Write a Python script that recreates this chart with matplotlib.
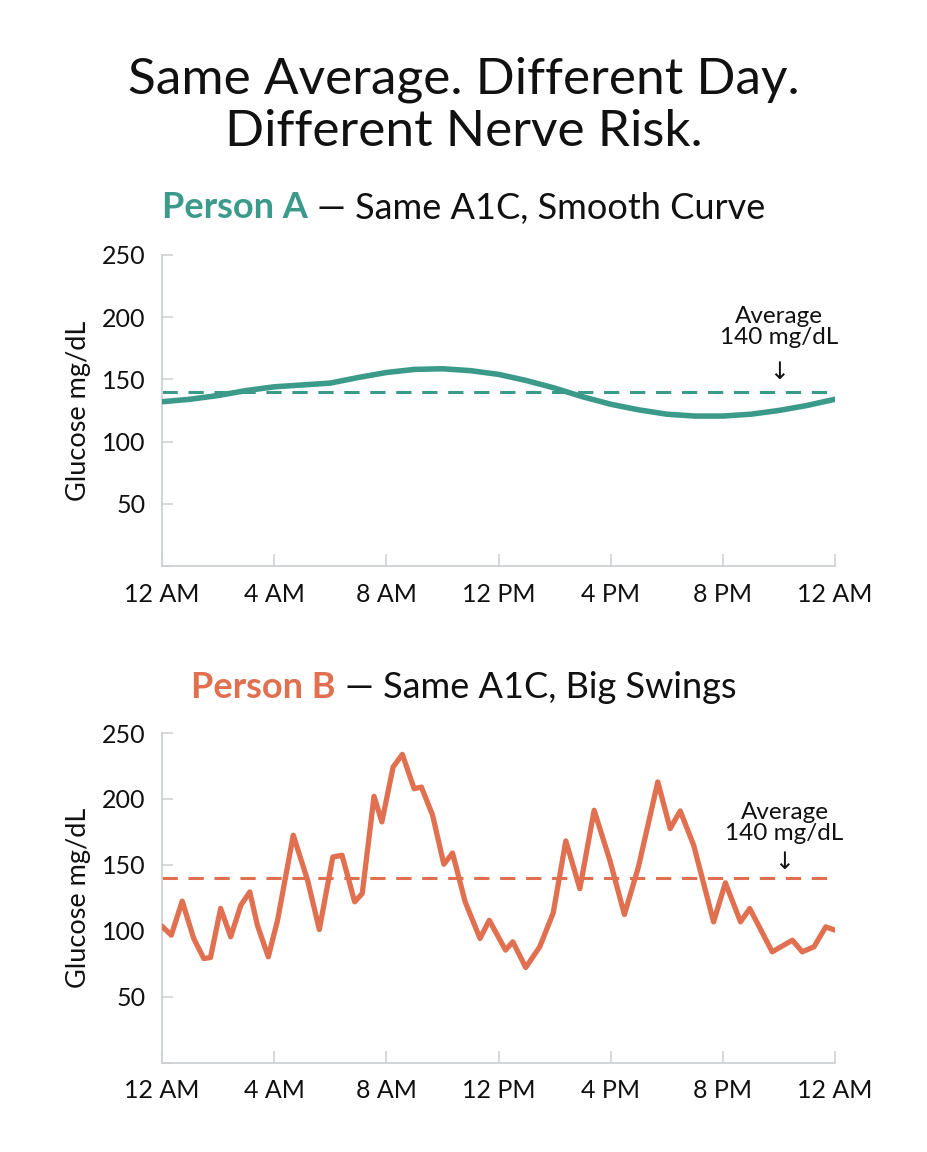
import matplotlib

matplotlib.use("Agg", force=True)
import matplotlib.pyplot as plt

plt.rcParams["font.family"] = ["Lato", "DejaVu Sans"]

# Person A: smooth curve, read hourly
hours_a = list(range(25))
glucose_a = [132, 134, 137, 141, 144, 145.5, 147, 151.5, 155.5, 158, 158.5, 157, 154,
             149, 143, 136, 130, 125.5, 122, 120.5, 120.5, 122, 125, 129, 134]

# Person B: jagged trace, vertices
hours_b = [0.0, 0.33, 0.72, 1.13, 1.49, 1.73, 2.09, 2.45, 2.81, 3.13, 3.4, 3.79, 4.12,
           4.68, 5.19, 5.61, 6.09, 6.42, 6.87, 7.14, 7.56, 7.84, 8.24, 8.57, 8.99,
           9.25, 9.65, 10.05, 10.36, 10.81, 11.34, 11.67, 12.25, 12.51, 12.97, 13.47,
           13.95, 14.4, 14.9, 15.41, 15.97, 16.49, 16.99, 17.68, 18.12, 18.48, 18.96,
           19.67, 20.09, 20.63, 20.96, 21.76, 22.48, 22.83, 23.25, 23.67, 24.0]
glucose_b = [103.5, 96.7, 122.5, 94.2, 79, 79.8, 117, 95.5, 119.4, 129.5, 104.3, 80.3, 108,
             172.5, 138.4, 101, 156, 157.3, 122, 128.3, 202, 182.6, 224.2, 233.8, 207.8,
             209, 187.6, 150.5, 159, 122, 94.2, 108, 85.4, 91.7, 72.2, 87.9,
             113.6, 168.2, 132, 191.4, 153.5, 112.4, 148.5, 212.9, 177.5, 190.9, 164.9,
             106.8, 136.4, 106.8, 116.9, 84.1, 92.9, 84.1, 87.9, 103, 100.5]

average = 140
tick_hours = [0, 4, 8, 12, 16, 20, 24]
tick_labels = ["12 AM", "4 AM", "8 AM", "12 PM", "4 PM", "8 PM", "12 AM"]
y_ticks = [0, 50, 100, 150, 200, 250]
y_labels = ["", "50", "100", "150", "200", "250"]

TEAL = "#3c9a8b"
ORANGE = "#e0704f"
GRID = "#cfd2d4"
INK = "#111111"

fig = plt.figure(figsize=(9.28, 11.52), dpi=100)
fig.patch.set_facecolor("white")

ax_a = fig.add_axes([0.1746, 0.5087, 0.7252, 0.270])
ax_b = fig.add_axes([0.1746, 0.0775, 0.7252, 0.2862])


def style_axis(ax, color):
    ax.set_xlim(0, 24)
    ax.set_ylim(0, 250)
    ax.set_xticks(tick_hours)
    ax.set_xticklabels(tick_labels)
    ax.set_yticks(y_ticks)
    ax.set_yticklabels(y_labels)
    for side in ["top", "right"]:
        ax.spines[side].set_visible(False)
    for side in ["left", "bottom"]:
        ax.spines[side].set_color(GRID)
        ax.spines[side].set_linewidth(1.3)
    ax.tick_params(axis="both", direction="in", color=GRID, width=1.2, labelsize=18,
                   labelcolor=INK)
    ax.tick_params(axis="x", length=9, pad=12)
    ax.tick_params(axis="y", length=8, pad=12)
    ax.set_ylabel("Glucose mg/dL", fontsize=19.5, color=INK, labelpad=8)
    ax.axhline(average, color=color, lw=2.2, ls=(0, (5, 3.5)), zorder=2)


style_axis(ax_a, TEAL)
ax_a.plot(hours_a, glucose_a, color=TEAL, lw=4, solid_capstyle="round",
          solid_joinstyle="round", zorder=3)

style_axis(ax_b, ORANGE)
ax_b.plot(hours_b, glucose_b, color=ORANGE, lw=3.8, solid_capstyle="round",
          solid_joinstyle="round", zorder=3)

for ax, x, ytxt, yarr in [(ax_a, 22.0, 175, 146), (ax_b, 22.2, 166, 143)]:
    ax.text(x, ytxt, "Average\n140 mg/dL", ha="center", va="bottom", fontsize=17.5,
            color=INK, linespacing=1.0)
    ax.text(x, yarr, "\u2193", ha="center", va="bottom", fontsize=17,
            color=INK, family="DejaVu Sans")

fig.text(0.5, 1 - 80 / 1152, "Same Average. Different Day.", ha="center", va="center",
         fontsize=37, color=INK)
fig.text(0.5, 1 - 132 / 1152, "Different Nerve Risk.", ha="center", va="center",
         fontsize=37, color=INK)

renderer = fig.canvas.get_renderer()


def two_part_title(y, bold_text, rest, color):
    t1 = fig.text(0, y, bold_text, fontsize=26, fontweight="bold", color=color,
                  va="center", ha="left")
    t2 = fig.text(0, y, " \u2014 " + rest, fontsize=26, color=INK,
                  va="center", ha="left")
    w1 = t1.get_window_extent(renderer).width / fig.bbox.width
    w2 = t2.get_window_extent(renderer).width / fig.bbox.width
    x0 = 0.5 - (w1 + w2) / 2
    t1.set_x(x0)
    t2.set_x(x0 + w1)


two_part_title(1 - 208 / 1152, "Person A", "Same A1C, Smooth Curve", TEAL)
two_part_title(1 - 688 / 1152, "Person B", "Same A1C, Big Swings", ORANGE)

fig.savefig("out.png", dpi=100, facecolor="white")
